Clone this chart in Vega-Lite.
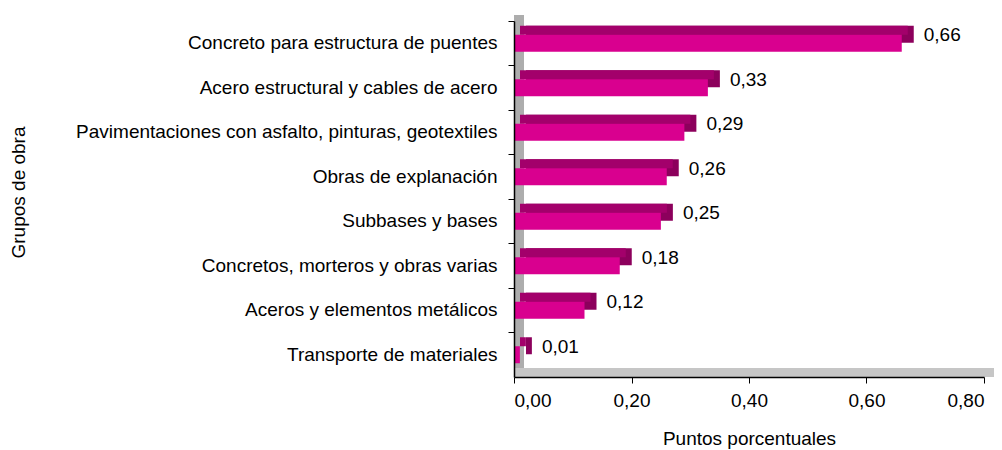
{
  "$schema": "https://vega.github.io/schema/vega-lite/v6.json",
  "width": 470,
  "height": 356,
  "autosize": {"type": "none"},
  "padding": {"left": 514, "top": 21, "right": 18, "bottom": 73},
  "background": "white",
  "data": {"values": [
    {"grupo": "Concreto para estructura de puentes", "valor": 0.66},
    {"grupo": "Acero estructural y cables de acero", "valor": 0.33},
    {"grupo": "Pavimentaciones con asfalto, pinturas, geotextiles", "valor": 0.29},
    {"grupo": "Obras de explanación", "valor": 0.26},
    {"grupo": "Subbases y bases", "valor": 0.25},
    {"grupo": "Concretos, morteros y obras varias", "valor": 0.18},
    {"grupo": "Aceros y elementos metálicos", "valor": 0.12},
    {"grupo": "Transporte de materiales", "valor": 0.01}
  ]},
  "encoding": {
    "y": {
      "field": "grupo", "type": "nominal", "sort": null,
      "scale": {
        "domain": ["Concreto para estructura de puentes", "Acero estructural y cables de acero", "Pavimentaciones con asfalto, pinturas, geotextiles", "Obras de explanación", "Subbases y bases", "Concretos, morteros y obras varias", "Aceros y elementos metálicos", "Transporte de materiales"],
        "paddingInner": 0, "paddingOuter": 0
      },
      "axis": {
        "title": "Grupos de obra",
        "bandPosition": 0,
        "domainColor": "black", "domainWidth": 1.5,
        "tickColor": "black", "tickSize": 6, "tickWidth": 1,
        "labelFont": "Liberation Sans", "labelFontSize": 19, "labelColor": "black",
        "labelPadding": 11, "labelLimit": 600,
        "titleFont": "Liberation Sans", "titleFontSize": 19, "titleFontWeight": "normal", "titleColor": "black",
        "titleAngle": -90, "titleX": -496, "titleY": 171, "titleAlign": "center", "titleBaseline": "middle",
        "zindex": 2
      }
    }
  },
  "layer": [
    {
      "mark": {"type": "rect", "color": "#ADADAD", "x2Offset": 10, "yOffset": -6},
      "encoding": {
        "x": {"datum": 0, "type": "quantitative"},
        "x2": {"datum": 0},
        "y": null
      }
    },
    {
      "mark": {"type": "rule", "color": "#C6C6C6", "strokeWidth": 9, "yOffset": -4.5, "x2Offset": 10},
      "encoding": {
        "x": {"datum": 0, "type": "quantitative"},
        "x2": {"datum": 0.8},
        "y": {"datum": "Transporte de materiales", "bandPosition": 1}
      }
    },
    {
      "mark": {"type": "bar", "color": "#8C005C", "size": 17, "xOffset": 12, "yOffset": -9, "x2Offset": 12},
      "encoding": {
        "x": {"field": "valor", "type": "quantitative"},
        "x2": {"datum": 0}
      }
    },
    {
      "mark": {"type": "bar", "color": "#A3006B", "size": 9, "xOffset": 6, "x2Offset": 6, "yOffset": -13},
      "encoding": {
        "x": {"field": "valor", "type": "quantitative"},
        "x2": {"datum": 0}
      }
    },
    {
      "mark": {"type": "bar", "color": "#D9008F", "size": 17},
      "encoding": {
        "x": {
          "field": "valor", "type": "quantitative",
          "scale": {"domain": [0, 0.8], "nice": false},
          "axis": {
            "title": "Puntos porcentuales",
            "values": [0, 0.2, 0.4, 0.6, 0.8],
            "format": ".2f",
            "grid": false,
            "domainColor": "black", "domainWidth": 1.5,
            "tickColor": "black", "tickSize": 6, "tickWidth": 1,
            "labelFont": "Liberation Sans", "labelFontSize": 19, "labelColor": "black",
            "labelPadding": 8,
            "titleFont": "Liberation Sans", "titleFontSize": 19, "titleFontWeight": "normal", "titleColor": "black",
            "titleY": 61, "titleBaseline": "middle",
            "zindex": 2
          }
        }
      }
    },
    {
      "mark": {"type": "text", "align": "left", "baseline": "middle", "dx": 22, "dy": -8, "font": "Liberation Sans", "fontSize": 19, "color": "black"},
      "encoding": {
        "x": {"field": "valor", "type": "quantitative"},
        "text": {"field": "valor", "type": "quantitative", "format": ".2f"}
      }
    }
  ],
  "config": {
    "view": {"stroke": null},
    "locale": {"number": {"decimal": ",", "thousands": ".", "grouping": [3], "currency": ["", ""]}}
  }
}
